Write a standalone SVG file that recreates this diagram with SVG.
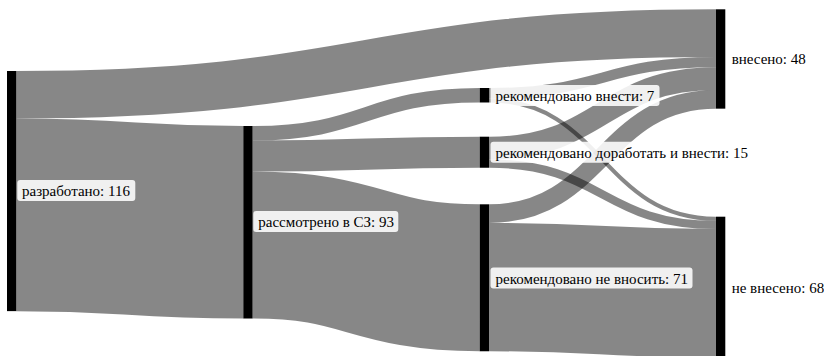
<svg xmlns="http://www.w3.org/2000/svg" width="824" height="356" viewBox="0 0 824 356">
<style>
.link{fill:none;stroke:#000;stroke-opacity:0.47}
.bar{fill:#000}
.lbl{fill:#fff;fill-opacity:0.88}
.t{font-size:15px;fill:#000}
</style>
<rect width="824" height="356" fill="#fff"/>
<g id="links">
<path class="link" stroke-width="47.61" d="M16.3,94.8C366.15,94.8 366.15,33.1 716,33.1"/>
<path class="link" stroke-width="192.51" d="M16.3,214.87C129.8,214.87 129.8,222.26 243.3,222.26"/>
<path class="link" stroke-width="14.49" d="M252.6,133.25C366.15,133.25 366.15,95.25 479.7,95.25"/>
<path class="link" stroke-width="31.05" d="M252.6,156.02C366.15,156.02 366.15,152.23 479.7,152.23"/>
<path class="link" stroke-width="146.97" d="M252.6,245.03C366.15,245.03 366.15,277.79 479.7,277.79"/>
<path class="link" stroke-width="10.35" d="M489,93.18C602.5,93.18 602.5,62.09 716,62.09"/>
<path class="link" stroke-width="4.14" d="M489,100.42C602.5,100.42 602.5,218.77 716,218.77"/>
<path class="link" stroke-width="22.77" d="M489,148.09C602.5,148.09 602.5,78.65 716,78.65"/>
<path class="link" stroke-width="8.28" d="M489,163.61C602.5,163.61 602.5,224.98 716,224.98"/>
<path class="link" stroke-width="18.63" d="M489,213.62C602.5,213.62 602.5,99.35 716,99.35"/>
<path class="link" stroke-width="128.34" d="M489,287.1C602.5,287.1 602.5,293.29 716,293.29"/>
</g>
<g id="node-developed">
<rect class="bar" x="7" y="71" width="9.3" height="240.12"/>
<rect class="lbl" x="17.3" y="180" width="118" height="21" rx="3"/>
<text class="t" font-family="Liberation Serif" x="22" y="196">разработано: 116</text>
</g>
<g id="node-reviewed">
<rect class="bar" x="243.3" y="126" width="9.3" height="192.51"/>
<rect class="lbl" x="253.3" y="211" width="145" height="21" rx="3"/>
<text class="t" font-family="Liberation Serif" x="258.3" y="227">рассмотрено в СЗ: 93</text>
</g>
<g id="node-rec-include">
<rect class="bar" x="479.7" y="88" width="9.3" height="14.49"/>
<rect class="lbl" x="490.5" y="85" width="169" height="21" rx="3"/>
<text class="t" font-family="Liberation Serif" x="495.5" y="101">рекомендовано внести: 7</text>
</g>
<g id="node-rec-revise">
<rect class="bar" x="479.7" y="136.7" width="9.3" height="31.05"/>
<rect class="lbl" x="490.5" y="141.7" width="261" height="21" rx="3"/>
<text class="t" font-family="Liberation Serif" x="495.5" y="157.7">рекомендовано доработать и внести: 15</text>
</g>
<g id="node-rec-reject">
<rect class="bar" x="479.7" y="204.3" width="9.3" height="146.97"/>
<rect class="lbl" x="490.5" y="267.5" width="202" height="21" rx="3"/>
<text class="t" font-family="Liberation Serif" x="495.5" y="283.5">рекомендовано не вносить: 71</text>
</g>
<g id="node-included">
<rect class="bar" x="716" y="9.3" width="9.3" height="99.36"/>
<rect class="lbl" x="726.5" y="48.3" width="82" height="21" rx="3"/>
<text class="t" font-family="Liberation Serif" x="731.7" y="64.3">внесено: 48</text>
</g>
<g id="node-not-included">
<rect class="bar" x="716" y="216.7" width="9.3" height="140.76"/>
<rect class="lbl" x="726.5" y="276.6" width="97.5" height="21" rx="3"/>
<text class="t" font-family="Liberation Serif" x="731.7" y="292.6">не внесено: 68</text>
</g>
</svg>
